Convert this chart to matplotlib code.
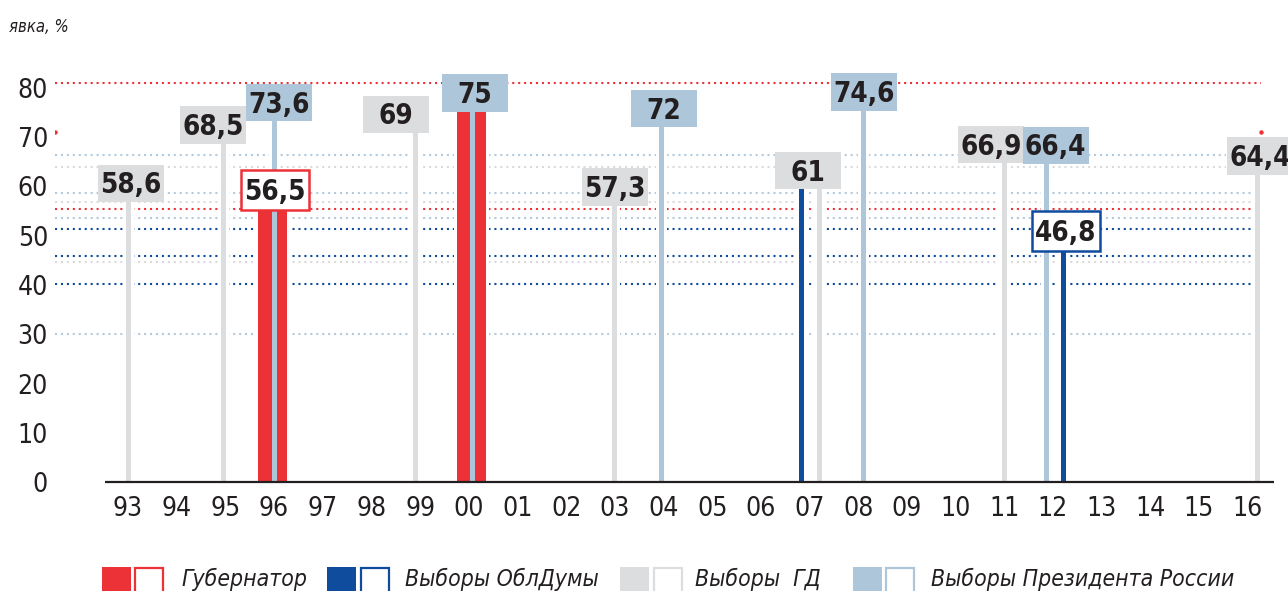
import matplotlib
matplotlib.use('Agg')
import matplotlib.pyplot as plt
from matplotlib.patches import Rectangle
from matplotlib import font_manager
from matplotlib.font_manager import FontProperties

# ищем узкий шрифт (Narrow / Condensed), иначе DejaVu Sans поменьше
def is_narrow(f):
    n = (f.name + ' ' + f.fname).lower()
    return 'narrow' in n or 'condensed' in n or str(f.stretch).lower() in ('condensed', 'semi-condensed', '375', '400')

narrow_fonts = [f for f in font_manager.fontManager.ttflist if is_narrow(f) and f.fname.lower().endswith(('.ttf', '.otf'))]

def weight_num(w):
    if isinstance(w, int):
        return w
    return {'bold': 700, 'normal': 400, 'regular': 400, 'light': 300}.get(str(w).lower(), 400)

def pick(bold=False, italic=False, size=12):
    best = None
    for f in narrow_fonts:
        ok_style = (f.style != 'normal') == italic
        wn = weight_num(f.weight)
        score = abs(wn - (700 if bold else 400)) + (0 if ok_style else 1000)
        if best is None or score < best[0]:
            best = (score, f)
    if best is not None and best[0] < 1000:
        return FontProperties(fname=best[1].fname, size=size)
    return FontProperties(family='DejaVu Sans', size=size * 0.8,
                          weight='bold' if bold else 'normal',
                          style='italic' if italic else 'normal')

# ---- данные ----
years = ['93', '94', '95', '96', '97', '98', '99', '00', '01', '02', '03', '04',
         '05', '06', '07', '08', '09', '10', '11', '12', '13', '14', '15', '16']

gov_years = ['96', '00']                      # Губернатор
gov_vals = [56.5, 75]
duma_years = ['07', '12']                     # Выборы ОблДумы
duma_vals = [61, 46.8]
gd_years = ['93', '95', '99', '03', '07', '11', '16']   # Выборы ГД
gd_vals = [58.6, 68.5, 69, 57.3, 61, 66.9, 64.4]
pres_years = ['96', '00', '04', '08', '12']   # Выборы Президента России
pres_vals = [73.6, 75, 72, 74.6, 66.4]

# пунктирные уровни
ref_gov = [81, 55.4]
ref_duma = [51.4, 45.9, 40.2]
ref_gd = [64.0, 56.9, 44.7]
ref_pres = [66.4, 58.7, 53.7, 30.0]

legend_labels = ['Губернатор', 'Выборы ОблДумы', 'Выборы  ГД', 'Выборы Президента России']

# ---- цвета ----
RED = '#EC3237'
BLUE = '#0F4C9E'
GRAY = '#DCDDDE'
LBLUE = '#AEC6D9'
DOT_GRAY = '#DADADA'
DOT_LBLUE = '#B3CADD'
TXT = '#231F20'

fp_val = pick(bold=True, size=20)
fp_tick = pick(size=19)
fp_leg = pick(italic=True, size=16.5)
fp_unit = pick(italic=True, size=12)

# ---- раскладка ----
PX_X = 48.675   # пикселей на год
PX_Y = 4.925    # пикселей на 1 %
stem_dx = {('gov', '96'): -0.03, ('gov', '00'): 0.06, ('pres', '00'): 0.07,
           ('gd', '95'): -0.03, ('gd', '99'): -0.1, ('pres', '04'): -0.03,
           ('duma', '07'): -0.17, ('gd', '07'): 0.21, ('pres', '08'): 0.12,
           ('pres', '12'): -0.14, ('duma', '12'): 0.21, ('gd', '16'): 0.2}
# (dx подписи от столбика, низ подписи относительно значения)
lab = {('gd', '93'): (0.06, -1.8), ('gd', '95'): (-0.23, 0.1), ('pres', '96'): (0.1, -0.4),
       ('gov', '96'): (0.05, -1.2), ('gd', '99'): (-0.4, 1.8), ('pres', '00'): (0.06, 0.2),
       ('gd', '03'): (0.0, -1.2), ('pres', '04'): (0.04, 0.0), ('gd', '07'): (-0.25, -1.6),
       ('pres', '08'): (0.0, 0.7), ('gd', '11'): (-0.27, -2.2), ('pres', '12'): (0.2, -1.9),
       ('duma', '12'): (0.06, 0.1), ('gd', '16'): (0.06, -2.0)}
stem_dy = {('duma', '07'): -1.6, ('gov', '00'): 0.2}

fig = plt.figure(figsize=(12.88, 5.91), dpi=100)
ax = fig.add_axes([55 / 1288, 109 / 591, 1233 / 1288, 422 / 591])
ax.set_xlim((55 - 128) / PX_X, (1288 - 128) / PX_X)
ax.set_ylim(0, 422 / PX_Y)
for s in ax.spines.values():
    s.set_visible(False)

# пунктир
x_left = (55 - 128) / PX_X
x_end = (1261 - 128) / PX_X
x_short = (1226 - 128) / PX_X
x_mid = (1253 - 128) / PX_X
dots = dict(lw=1.5, linestyle=(0, (1, 1.85)), zorder=1)
ax.hlines(ref_gov[0], x_left, x_end, color=RED, **dots)
ax.hlines(ref_gov[1], x_left, x_mid, color=RED, **dots)
ax.plot([x_left, x_end], [71, 71], ls='none', marker='o', ms=2.2, color=RED, zorder=1)
for v in ref_duma:
    ax.hlines(v, x_left, x_end, color=BLUE, **dots)
for v in ref_gd:
    ax.hlines(v, x_left, x_short if v > 60 else x_end, color=DOT_GRAY, **dots)
for v in ref_pres:
    xe = x_short if v > 60 else (x_mid if v < 35 else x_end)
    ax.hlines(v, x_left, xe, color=DOT_LBLUE, **dots)

series = [('gov', gov_years, gov_vals, RED, 29),
          ('gd', gd_years, gd_vals, GRAY, 5),
          ('duma', duma_years, duma_vals, BLUE, 5),
          ('pres', pres_years, pres_vals, LBLUE, 5)]

BOX_W = 66 / PX_X
BOX_H = 37.7 / PX_Y
cap = 0.72 * fp_val.get_size_in_points() / 2

for key, ys, vals, col, wpx in series:
    xs = [years.index(y) + stem_dx.get((key, y), 0) for y in ys]
    hs = [v + lab.get((key, y), (0, stem_dy.get((key, y), 0)))[1] for y, v in zip(ys, vals)]
    # белая подложка, чтобы пунктир обрывался у столбика
    ax.bar(xs, hs, width=(wpx + 6) / PX_X, color='white', zorder=2)
    ax.bar(xs, hs, width=wpx / PX_X, color=col, zorder=3 if key == 'gov' else 4)

    for x, y, v, h in zip(xs, ys, vals, hs):
        if (key, y) not in lab:
            continue
        cx = x + lab[(key, y)][0]
        if key in ('gov', 'duma'):
            bw, bh = 68 / PX_X, 40 / PX_Y
            box = Rectangle((cx - bw / 2, h), bw, bh, facecolor='white',
                            edgecolor=RED if key == 'gov' else BLUE, lw=1.8,
                            zorder=6, clip_on=False)
        else:
            bw, bh = BOX_W, BOX_H
            box = Rectangle((cx - bw / 2, h), bw, bh, facecolor=col,
                            edgecolor='none', zorder=6, clip_on=False)
        ax.add_patch(box)
        txt = ('%g' % v).replace('.', ',')
        ax.annotate(txt, (cx, h + bh / 2), xytext=(0, -cap), textcoords='offset points',
                    ha='center', va='baseline', fontproperties=fp_val,
                    color=TXT, zorder=7, annotation_clip=False)

# ось
ax.plot([(105 - 128) / PX_X, (1274 - 128) / PX_X], [0, 0], color=TXT, lw=1.6,
        zorder=8, clip_on=False, solid_capstyle='butt')

ax.set_xticks(range(len(years)))
ax.set_xticklabels(years, fontproperties=fp_tick, color=TXT)
ax.set_yticks(range(0, 81, 10))
ax.set_yticklabels([str(v) for v in range(0, 81, 10)], fontproperties=fp_tick, color=TXT)
ax.tick_params(axis='both', length=0)
ax.tick_params(axis='x', pad=10)
ax.tick_params(axis='y', pad=5)

fig.text(9 / 1288, 1 - 27 / 591, 'явка, %', fontproperties=fp_unit, color=TXT,
         va='center', ha='left')

# легенда снизу
leg = [(102, 135, 181, RED), (327, 361, 405, BLUE), (620, 654, 695, GRAY), (853, 886, 931, LBLUE)]
for (fx, ox, tx, col), name in zip(leg, legend_labels):
    fig.add_artist(Rectangle((fx / 1288, -10 / 591), 29 / 1288, 34 / 591,
                             transform=fig.transFigure, facecolor=col, edgecolor='none'))
    fig.add_artist(Rectangle((ox / 1288, -10 / 591), 28 / 1288, 33 / 591,
                             transform=fig.transFigure, facecolor='white', edgecolor=col, lw=1.6))
    fig.text(tx / 1288, 5 / 591, name, fontproperties=fp_leg, color=TXT,
             ha='left', va='baseline')

fig.savefig('out.png', dpi=100)
